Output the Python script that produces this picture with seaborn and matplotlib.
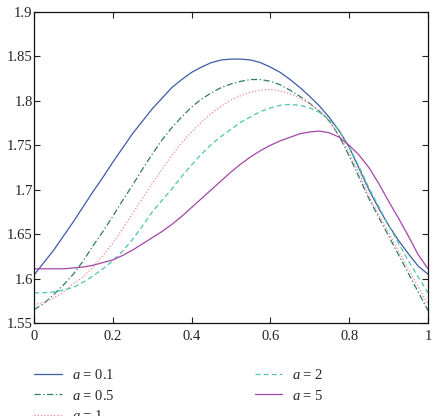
import matplotlib
matplotlib.use("Agg")
import matplotlib.pyplot as plt
import numpy as np
import pandas as pd
import seaborn as sns

# values (x step 0.025)
x_vals = [0.0, 0.025, 0.05, 0.075, 0.1, 0.125, 0.15, 0.175, 0.2, 0.225, 0.25,
          0.275, 0.3, 0.325, 0.35, 0.375, 0.4, 0.425, 0.45, 0.475, 0.5,
          0.525, 0.55, 0.575, 0.6, 0.625, 0.65, 0.675, 0.7, 0.725, 0.75,
          0.775, 0.8, 0.825, 0.85, 0.875, 0.9, 0.925, 0.95, 0.975, 1.0]
a_01 = [1.604, 1.618, 1.632, 1.648, 1.664, 1.681, 1.698, 1.714, 1.731, 1.747, 1.763,
        1.777, 1.791, 1.803, 1.815, 1.824, 1.832, 1.838, 1.843, 1.846, 1.847,
        1.847, 1.846, 1.843, 1.838, 1.832, 1.824, 1.815, 1.805, 1.794, 1.781,
        1.766, 1.748, 1.724, 1.700, 1.679, 1.660, 1.643, 1.628, 1.614, 1.605]
a_05 = [1.565, 1.572, 1.582, 1.593, 1.605, 1.620, 1.637, 1.653, 1.670, 1.688, 1.705,
        1.723, 1.740, 1.756, 1.770, 1.782, 1.793, 1.802, 1.809, 1.815, 1.819,
        1.822, 1.824, 1.824, 1.822, 1.818, 1.812, 1.805, 1.797, 1.788, 1.777,
        1.760, 1.738, 1.714, 1.690, 1.669, 1.648, 1.627, 1.606, 1.585, 1.564]
a_1 = [1.571, 1.573, 1.578, 1.585, 1.594, 1.602, 1.613, 1.626, 1.640, 1.656, 1.673,
       1.690, 1.707, 1.723, 1.739, 1.753, 1.765, 1.776, 1.786, 1.794, 1.801,
       1.806, 1.810, 1.812, 1.813, 1.811, 1.808, 1.803, 1.797, 1.788, 1.777,
       1.761, 1.742, 1.718, 1.693, 1.672, 1.652, 1.631, 1.611, 1.591, 1.571]
a_2 = [1.584, 1.584, 1.585, 1.587, 1.590, 1.596, 1.603, 1.611, 1.620, 1.631, 1.644,
       1.659, 1.675, 1.688, 1.701, 1.715, 1.728, 1.740, 1.751, 1.760, 1.768,
       1.776, 1.782, 1.788, 1.792, 1.795, 1.796, 1.795, 1.792, 1.787, 1.779,
       1.766, 1.748, 1.726, 1.702, 1.681, 1.660, 1.640, 1.620, 1.602, 1.584]
a_5 = [1.611, 1.611, 1.611, 1.611, 1.612, 1.613, 1.615, 1.618, 1.621, 1.626, 1.632,
       1.639, 1.646, 1.653, 1.661, 1.670, 1.680, 1.690, 1.700, 1.710, 1.720,
       1.729, 1.737, 1.744, 1.750, 1.755, 1.759, 1.763, 1.765, 1.766, 1.764,
       1.759, 1.750, 1.739, 1.725, 1.707, 1.687, 1.668, 1.648, 1.627, 1.611]

labels = ["$a$ = 0.1", "$a$ = 0.5", "$a$ = 1", "$a$ = 2", "$a$ = 5"]
series = [a_01, a_05, a_1, a_2, a_5]
colors = ["#3d5ba8", "#2f7d5c", "#f0879a", "#4cc6ab", "#a346a8"]
styles = ["-", (0, (5, 2, 1, 2)), (0, (1, 1.6)), (0, (4, 2.5)), "-"]

xticks = [0, 0.2, 0.4, 0.6, 0.8, 1.0]
xticklabels = ["0", "0.2", "0.4", "0.6", "0.8", "1"]
yticks = [1.55, 1.6, 1.65, 1.7, 1.75, 1.8, 1.85, 1.9]
yticklabels = ["1.55", "1.6", "1.65", "1.7", "1.75", "1.8", "1.85", "1.9"]

sns.set_style("ticks")
plt.rcParams["font.family"] = ["Liberation Serif", "DejaVu Serif"]
plt.rcParams["mathtext.fontset"] = "custom"
plt.rcParams["mathtext.it"] = "Liberation Serif:italic"
plt.rcParams["mathtext.rm"] = "Liberation Serif"

fig = plt.figure(figsize=(4.33, 4.16), dpi=100)
ax = fig.add_axes([34 / 433, 1 - 323 / 416, (428 - 34) / 433, (323 - 12) / 416])

for vals, lab, col, ls in zip(series, labels, colors, styles):
    df = pd.DataFrame({"x": x_vals, "y": vals})
    sns.lineplot(data=df, x="x", y="y", ax=ax, color=col, linestyle=ls,
                 linewidth=0.9, label=lab, legend=False)

ax.set_xlim(0, 1)
ax.set_ylim(1.55, 1.9)
ax.set_xticks(xticks)
ax.set_xticklabels(xticklabels)
ax.set_yticks(yticks)
ax.set_yticklabels(yticklabels)
ax.set_xlabel("")
ax.set_ylabel("")
ax.tick_params(direction="in", top=True, right=True, length=4, width=0.8,
               labelsize=10.5, colors="#222222")
ax.tick_params(axis="y", pad=1)
ax.tick_params(axis="x", pad=5)
for sp in ax.spines.values():
    sp.set_linewidth(0.9)
    sp.set_color("#111111")

handles, labs = ax.get_legend_handles_labels()
fig.legend(handles, labs, loc="upper left", bbox_to_anchor=(34 / 433, 1 - 368 / 416),
           ncol=2, frameon=False, fontsize=10.5, borderpad=0, borderaxespad=0,
           handlelength=1.9, handletextpad=0.7, columnspacing=9.6, labelspacing=0.45)

fig.savefig("out.png", dpi=100)
